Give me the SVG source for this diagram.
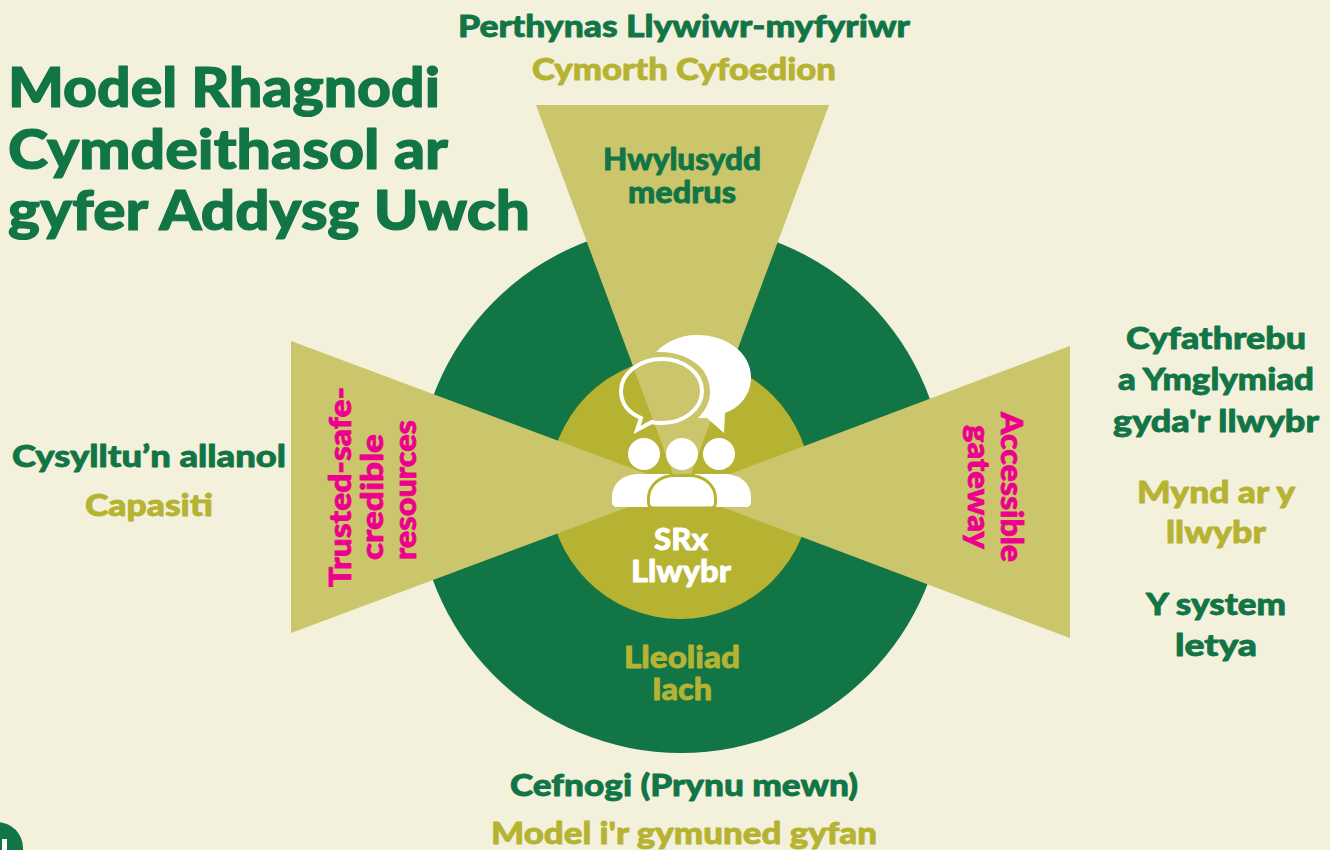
<svg xmlns="http://www.w3.org/2000/svg" width="1330" height="850" viewBox="0 0 1330 850">
<style>
text{font-family:"Lato","Noto Sans",sans-serif;font-weight:900;text-anchor:middle;stroke-linejoin:round}
.g{fill:#117546;stroke:#117546}.o{fill:#b7b332;stroke:#b7b332}.p{fill:#ec008c;stroke:#ec008c}.w{fill:#fff;stroke:#fff}
.l{font-size:31px;stroke-width:.8px}.t{font-size:56px;text-anchor:start;stroke-width:1.2px}
</style>
<rect width="1330" height="850" fill="#f3f0dc"/>
<g id="big-circle"><circle cx="681" cy="488.500" r="264.500" fill="#117546"/></g>
<g id="inner-circle"><circle cx="680" cy="488" r="131" fill="#b7b332"/></g>
<g id="wedges" fill="#cbc56c">
<polygon points="536,105 829,105 682,498"/>
<polygon points="291,341 291,633 682,487"/>
<polygon points="1070,346 1070,638 682,492"/>
</g>
<g id="title">
<text class="t g" x="8" y="107" textLength="432" lengthAdjust="spacingAndGlyphs">Model Rhagnodi</text>
<text class="t g" x="8" y="169" textLength="440" lengthAdjust="spacingAndGlyphs">Cymdeithasol ar</text>
<text class="t g" x="8" y="230" textLength="522" lengthAdjust="spacingAndGlyphs">gyfer Addysg Uwch</text>
</g>
<g id="icon" fill="#fff">
<path d="M656,352C667,341 681,335 697,335C728,335 751,354 751,377C751,394 741,407 725,413L724,433L707,418L698,418C706,410 710,401 710,392C710,383 707,376 703,370C693,358 676,351 656,352Z"/>
<path d="M641,418C627,412 621,402 621,391C621,373 640,359 662,359C684,359 702,373 702,391C702,409 684,423 662,423C658,423 655,423 652,422L637,430Z" fill="none" stroke="#fff" stroke-width="4" stroke-linejoin="miter"/>
<circle cx="644" cy="454" r="16"/><circle cx="682" cy="454" r="16"/><circle cx="719" cy="454" r="16"/>
<path d="M612,502V497C612,483 624,474 638,474H670V507H617C614,507 612,505 612,502Z"/>
<path d="M751,502V497C751,483 739,474 725,474H695V507H746C749,507 751,505 751,502Z"/>
<path d="M648.500,503V499C648.500,484 661,475.500 675,475.500H689C703,475.500 715.500,484 715.500,499V503C715.500,506 713,508 710,508H654C651,508 648.500,506 648.500,503Z" stroke="#b7b332" stroke-width="3"/>
</g>
<g id="labels">
<text class="l g" x="684" y="37" textLength="452" lengthAdjust="spacingAndGlyphs">Perthynas Llywiwr-myfyriwr</text>
<text class="l o" x="684" y="80" textLength="304" lengthAdjust="spacingAndGlyphs">Cymorth Cyfoedion</text>
<text class="l g" x="682" y="170" textLength="158" lengthAdjust="spacingAndGlyphs">Hwylusydd</text>
<text class="l g" x="682" y="203" textLength="108" lengthAdjust="spacingAndGlyphs">medrus</text>
<text class="l g" x="1216" y="349" textLength="180" lengthAdjust="spacingAndGlyphs">Cyfathrebu</text>
<text class="l g" x="1216" y="390" textLength="196" lengthAdjust="spacingAndGlyphs">a Ymglymiad</text>
<text class="l g" x="1216" y="432" textLength="206" lengthAdjust="spacingAndGlyphs">gyda'r llwybr</text>
<text class="l o" x="1216" y="503" textLength="158" lengthAdjust="spacingAndGlyphs">Mynd ar y</text>
<text class="l o" x="1216" y="543" textLength="100" lengthAdjust="spacingAndGlyphs">llwybr</text>
<text class="l g" x="1216" y="615" textLength="140" lengthAdjust="spacingAndGlyphs">Y system</text>
<text class="l g" x="1216" y="656" textLength="82" lengthAdjust="spacingAndGlyphs">letya</text>
<text class="l g" x="149" y="467" textLength="274" lengthAdjust="spacingAndGlyphs">Cysylltu’n allanol</text>
<text class="l o" x="149" y="516" textLength="128" lengthAdjust="spacingAndGlyphs">Capasiti</text>
<text class="l w" x="681" y="550" textLength="54" lengthAdjust="spacingAndGlyphs">SRx</text>
<text class="l w" x="681" y="582" textLength="100" lengthAdjust="spacingAndGlyphs">Llwybr</text>
<text class="l o" x="682" y="668" textLength="116" lengthAdjust="spacingAndGlyphs">Lleoliad</text>
<text class="l o" x="682" y="700" textLength="60" lengthAdjust="spacingAndGlyphs">Iach</text>
<text class="l g" x="684" y="796" textLength="348" lengthAdjust="spacingAndGlyphs">Cefnogi (Prynu mewn)</text>
<text class="l o" x="684" y="844" textLength="386" lengthAdjust="spacingAndGlyphs">Model i'r gymuned gyfan</text>
<text class="l p" transform="translate(351,487) rotate(-90)" textLength="200" lengthAdjust="spacingAndGlyphs">Trusted-safe-</text>
<text class="l p" transform="translate(383,497) rotate(-90)" textLength="126" lengthAdjust="spacingAndGlyphs">credible</text>
<text class="l p" transform="translate(416,490) rotate(-90)" textLength="140" lengthAdjust="spacingAndGlyphs">resources</text>
<text class="l p" transform="translate(1001,487) rotate(90)" textLength="150" lengthAdjust="spacingAndGlyphs">Accessible</text>
<text class="l p" transform="translate(968,487) rotate(90)" textLength="124" lengthAdjust="spacingAndGlyphs">gateway</text>
</g>
<g id="corner-mark"><circle cx="-3" cy="848" r="26" fill="#117546"/><rect x="2" y="839" width="5" height="11" fill="#fff"/></g>
</svg>
